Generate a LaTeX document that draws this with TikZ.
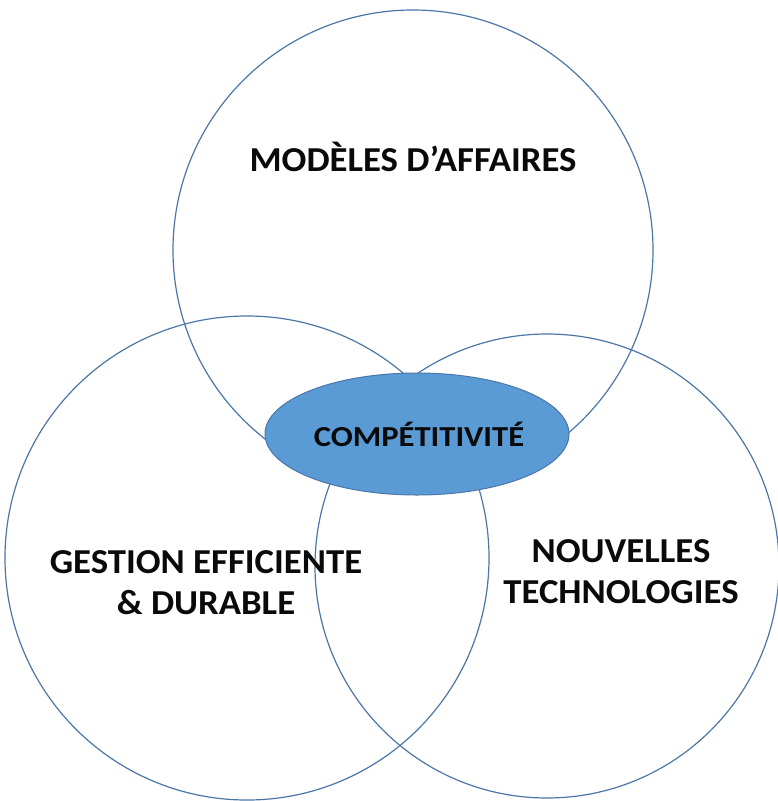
\documentclass[tikz,border=0pt]{standalone}
\usepackage{fontspec}
\setmainfont{Carlito}
\usetikzlibrary{shapes.geometric}
\definecolor{ringblue}{HTML}{4A76A8}
\definecolor{fillblue}{HTML}{5B9BD5}
\definecolor{txt}{HTML}{0A0A0A}
\tikzset{
  ring/.style={draw=ringblue,line width=1.2pt},
  lbl/.style={font=\bfseries\fontsize{35}{41}\selectfont,text=txt,align=center,inner sep=0pt,xscale=1.05},
}
\begin{document}
\begin{tikzpicture}[x=1pt,y=-1pt]
\useasboundingbox (0,0) rectangle (778,801);
\draw[ring] (413,250) circle[radius=240];
\draw[ring] (247,558) circle[radius=242];
\draw[ring] (547,566) circle[radius=232];
\node[ellipse,draw=ringblue,line width=1pt,fill=fillblue,minimum width=304,minimum height=122,inner sep=0pt] (c) at (417,434) {};
\node[lbl,font=\bfseries\fontsize{29}{35}\selectfont,xscale=1.07] (comp) at (419,434) {COMPÉTITIVITÉ};
\node[lbl] (m) at (413,157) {MODÈLES D’AFFAIRES};
\node[lbl] (g) at (206,583) {GESTION EFFICIENTE\\\& DURABLE};
\node[lbl] (n) at (621,572) {NOUVELLES\\TECHNOLOGIES};
\end{tikzpicture}
\end{document}
